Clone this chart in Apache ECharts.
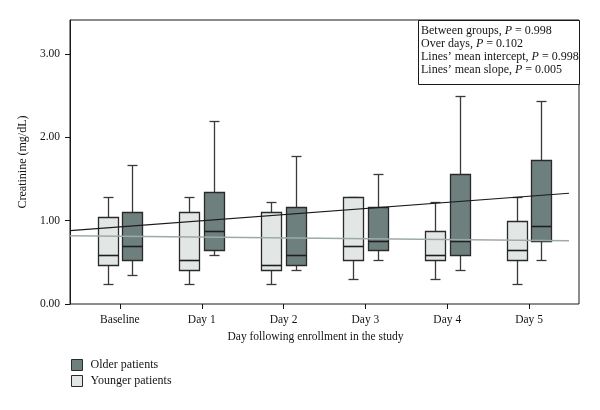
<!DOCTYPE html>
<html>
<head>
<meta charset="utf-8">
<script src="https://cdn.jsdelivr.net/npm/echarts@6/dist/echarts.min.js"></script>
<style>html,body{margin:0;padding:0;background:#fff}#c{width:600px;height:410px}</style>
</head>
<body>
<div id="c"></div>
<script>
// ---- data ----
const categories = ['Baseline', 'Day 1', 'Day 2', 'Day 3', 'Day 4', 'Day 5'];
// [min, Q1, median, Q3, max]
const youngerBoxes = [
  [0.24, 0.47, 0.59, 1.05, 1.28],
  [0.24, 0.41, 0.53, 1.11, 1.28],
  [0.24, 0.41, 0.47, 1.11, 1.22],
  [0.30, 0.53, 0.70, 1.28, 1.28],
  [0.30, 0.53, 0.59, 0.88, 1.22],
  [0.24, 0.53, 0.65, 1.00, 1.28]
];
const olderBoxes = [
  [0.35, 0.53, 0.70, 1.11, 1.67],
  [0.59, 0.65, 0.88, 1.34, 2.20],
  [0.41, 0.47, 0.59, 1.16, 1.78],
  [0.53, 0.65, 0.76, 1.16, 1.56],
  [0.41, 0.59, 0.76, 1.56, 2.50],
  [0.53, 0.76, 0.94, 1.73, 2.44]
];
// fitted lines: value at start and end of the plotted span
const olderTrend = [0.88, 1.33];
const youngerTrend = [0.82, 0.76];
const yTickValues = [0, 1, 2, 3];
const yMax = 3.41;
const statsLines = [
  ['Between groups', '0.998'],
  ['Over days', '0.102'],
  ['Lines\u2019 mean intercept', '0.998'],
  ['Lines\u2019 mean slope', '0.005']
];
const seriesNames = ['Older patients', 'Younger patients'];

// ---- styles ----
const SERIF = '"Liberation Serif", "DejaVu Serif", serif';
const OLDER_FILL = '#6e807e';
const YOUNGER_FILL = '#e2e7e6';
const INK = '#141414';

function toCustomData(boxes) {
  return boxes.map((b, i) => [i, b[0], b[1], b[2], b[3], b[4]]);
}

function boxRenderer(shift, fill) {
  return function (params, api) {
    const band = api.size([1, 0])[0];
    const cat = api.value(0);
    const cx = Math.round(api.coord([cat, 0])[0] + shift * band) + 0.5;
    const hw = Math.round(0.122 * band);
    const capw = Math.round(hw / 2);
    const y = (i) => Math.round(api.coord([cat, api.value(i)])[1]) + 0.5;
    const yMin = y(1), yQ1 = y(2), yMed = y(3), yQ3 = y(4), yMx = y(5);
    const ls = { stroke: '#3a3a3a', lineWidth: 1.3 };
    return {
      type: 'group',
      children: [
        { type: 'line', shape: { x1: cx, y1: yMx, x2: cx, y2: yQ3 }, style: ls },
        { type: 'line', shape: { x1: cx, y1: yQ1, x2: cx, y2: yMin }, style: ls },
        { type: 'line', shape: { x1: cx - capw, y1: yMx, x2: cx + capw, y2: yMx }, style: ls },
        { type: 'line', shape: { x1: cx - capw, y1: yMin, x2: cx + capw, y2: yMin }, style: ls },
        { type: 'rect', shape: { x: cx - hw, y: yQ3, width: 2 * hw, height: yQ1 - yQ3 },
          style: { fill: fill, stroke: '#2a2a2a', lineWidth: 1.3 } },
        { type: 'line', shape: { x1: cx - hw, y1: yMed, x2: cx + hw, y2: yMed },
          style: { stroke: '#1e1e1e', lineWidth: 1.6 } }
      ]
    };
  };
}

const statsText = statsLines.map(s => '{n|' + s[0] + ', }{i|P}{n| = ' + s[1] + '}').join('\n');

const chart = echarts.init(document.getElementById('c'), null, { renderer: 'canvas' });
const gTop = 20, gBottom = 106;
chart.setOption({
  animation: false,
  backgroundColor: '#fff',
  grid: [
    { left: 70, right: 21, top: gTop, bottom: gBottom, show: true, borderColor: '#1a1a1a', borderWidth: 1, backgroundColor: 'transparent' },
    { left: 79, right: 30, top: gTop, bottom: gBottom },
    { left: 70, right: 31, top: gTop, bottom: gBottom }
  ],
  xAxis: [
    { type: 'value', gridIndex: 0, show: false, min: 0, max: 1 },
    {
      type: 'category', gridIndex: 1, data: categories,
      axisLine: { show: false },
      axisTick: { show: true, alignWithLabel: true, length: 5, lineStyle: { color: INK, width: 1 } },
      axisLabel: { margin: 10, color: INK, fontFamily: SERIF, fontSize: 11.5 },
      name: 'Day following enrollment in the study',
      nameLocation: 'middle', nameGap: 27,
      nameTextStyle: { color: INK, fontFamily: SERIF, fontSize: 11.5, padding: [0, 18, 0, 0] }
    },
    { type: 'value', gridIndex: 2, show: false, min: 0, max: 1 }
  ],
  yAxis: [
    {
      type: 'value', gridIndex: 0, min: 0, max: yMax,
      axisLine: { show: true, lineStyle: { color: '#1a1a1a', width: 1 } },
      axisTick: { show: true, length: 5, customValues: yTickValues, lineStyle: { color: INK } },
      axisLabel: { customValues: yTickValues, formatter: v => v.toFixed(2), margin: 10, color: INK, fontFamily: SERIF, fontSize: 11.5 },
      splitLine: { show: false },
      name: 'Creatinine (mg/dL)', nameLocation: 'middle', nameGap: 33,
      nameTextStyle: { color: INK, fontFamily: SERIF, fontSize: 12 }
    },
    { type: 'value', gridIndex: 1, min: 0, max: yMax, show: false },
    { type: 'value', gridIndex: 2, min: 0, max: yMax, show: false }
  ],
  legend: {
    orient: 'vertical', left: 71, top: 359, padding: 0,
    itemWidth: 11, itemHeight: 11, itemGap: 4,
    textStyle: { color: INK, fontFamily: SERIF, fontSize: 12, lineHeight: 12, padding: [0, 0, 0, 3] },
    data: [
      { name: seriesNames[0], icon: 'rect', itemStyle: { color: OLDER_FILL, borderColor: '#2a2a2a', borderWidth: 1 } },
      { name: seriesNames[1], icon: 'rect', itemStyle: { color: YOUNGER_FILL, borderColor: '#2a2a2a', borderWidth: 1 } }
    ]
  },
  graphic: [
    { type: 'rect', left: 418, top: 20, z: 10, shape: { width: 161, height: 64 },
      style: { fill: '#fff', stroke: '#1a1a1a', lineWidth: 1 } },
    { type: 'text', left: 421, top: 24, z: 11,
      style: {
        text: statsText, fill: INK, fontFamily: SERIF, fontSize: 12, lineHeight: 13,
        rich: {
          n: { fontFamily: SERIF, fontSize: 12, lineHeight: 13, fill: INK },
          i: { fontFamily: SERIF, fontSize: 12, lineHeight: 13, fontStyle: 'italic', fill: INK }
        }
      } }
  ],
  series: [
    {
      name: seriesNames[0], type: 'custom', xAxisIndex: 1, yAxisIndex: 1,
      itemStyle: { color: OLDER_FILL },
      encode: { x: 0, y: [1, 2, 3, 4, 5] },
      data: toCustomData(olderBoxes),
      renderItem: boxRenderer(0.15, OLDER_FILL), z: 2
    },
    {
      name: seriesNames[1], type: 'custom', xAxisIndex: 1, yAxisIndex: 1,
      itemStyle: { color: YOUNGER_FILL },
      encode: { x: 0, y: [1, 2, 3, 4, 5] },
      data: toCustomData(youngerBoxes),
      renderItem: boxRenderer(-0.15, YOUNGER_FILL), z: 2
    },
    {
      name: 'Older trend', type: 'line', xAxisIndex: 2, yAxisIndex: 2,
      data: [[0, olderTrend[0]], [1, olderTrend[1]]],
      symbol: 'none', silent: true, z: 5,
      lineStyle: { color: '#1a1a1a', width: 1.2 }
    },
    {
      name: 'Younger trend', type: 'line', xAxisIndex: 2, yAxisIndex: 2,
      data: [[0, youngerTrend[0]], [1, youngerTrend[1]]],
      symbol: 'none', silent: true, z: 5,
      lineStyle: { color: '#9eaaa8', width: 1.5 }
    }
  ]
});
</script>
</body>
</html>
